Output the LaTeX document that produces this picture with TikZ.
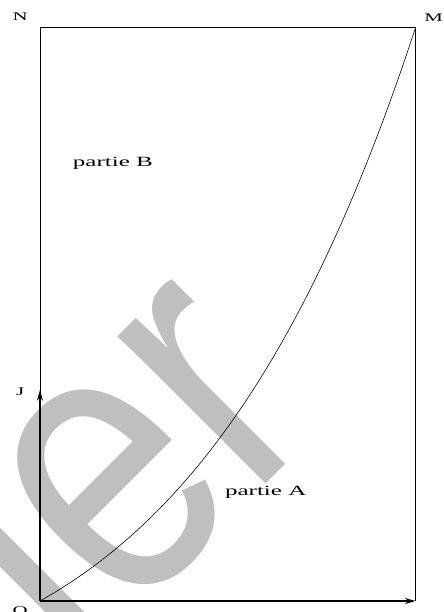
\documentclass[tikz,border=0pt]{standalone}
\usepackage{fontspec}
\setmainfont{Liberation Serif}
\newfontfamily\wmfont{Liberation Sans}
\usetikzlibrary{arrows.meta}

\begin{document}
\begin{tikzpicture}[x=6.33cm,y=6.33cm,xscale=1.78,>={Stealth[length=9pt,width=5pt]},
 lbl/.style={transform shape,inner sep=0pt,font=\fontsize{10}{12}\selectfont},
 partie/.style={transform shape,inner sep=0pt,font=\fontsize{12}{14}\selectfont}]
 \clip (-0.1064,-0.0521) rectangle (1.0745,2.848);
 % watermark
 \node[rotate=45,anchor=base west,text=black!25,inner sep=0pt] (wm) at (-0.035,-0.58)
  {\wmfont\fontsize{270}{270}\selectfont\scalebox{1}[1.25]{ller}};
 \coordinate (O) at (0,0);
 \coordinate (I) at (1,0);
 \coordinate (J) at (0,1);
 \coordinate (M) at (1,{exp(1)});
 \coordinate (N) at (0,{exp(1)});
 \draw[line width=0.6pt] (O) -- (N) -- (M) -- (I);
 \draw[line width=0.5pt] plot[domain=0:1,samples=120] (\x,{\x*exp(\x)});
 \draw[->,line width=2.2pt] (O) -- (I);
 \draw[->,line width=2.2pt] (O) -- (J);
 \node[lbl] (lN) at (-0.053,2.77) {N};
 \node[lbl] (lM) at (1.048,2.763) {M};
 \node[lbl] (lJ) at (-0.053,0.99) {J};
 \node[lbl] (lO) at (-0.053,-0.047) {O};
 \node[lbl] (lI) at (1.043,-0.095) {I};
 \node[partie] (pB) at (0.194,2.076) {partie B};
 \node[partie] (pA) at (0.601,0.517) {partie A};
\end{tikzpicture}
\end{document}
